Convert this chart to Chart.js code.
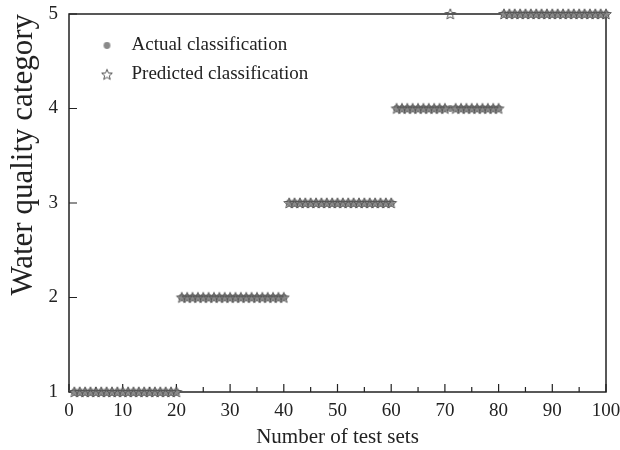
<!DOCTYPE html>
<html>
<head>
<meta charset="utf-8">
<script src="https://cdn.jsdelivr.net/npm/chart.js@4.4.1/dist/chart.umd.min.js"></script>
<style>
  html, body { margin: 0; padding: 0; background: #fff; }
  #wrap { width: 620px; height: 450px; }
</style>
</head>
<body>
<div id="wrap"><canvas id="qualityChart"></canvas></div>
<script>
// test set numbers 1..100
const testSets = [
  1, 2, 3, 4, 5, 6, 7, 8, 9, 10, 11, 12, 13, 14, 15, 16, 17, 18, 19, 20,
  21, 22, 23, 24, 25, 26, 27, 28, 29, 30, 31, 32, 33, 34, 35, 36, 37, 38, 39, 40,
  41, 42, 43, 44, 45, 46, 47, 48, 49, 50, 51, 52, 53, 54, 55, 56, 57, 58, 59, 60,
  61, 62, 63, 64, 65, 66, 67, 68, 69, 70, 71, 72, 73, 74, 75, 76, 77, 78, 79, 80,
  81, 82, 83, 84, 85, 86, 87, 88, 89, 90, 91, 92, 93, 94, 95, 96, 97, 98, 99, 100
];

const actual = [
  1, 1, 1, 1, 1, 1, 1, 1, 1, 1, 1, 1, 1, 1, 1, 1, 1, 1, 1, 1,
  2, 2, 2, 2, 2, 2, 2, 2, 2, 2, 2, 2, 2, 2, 2, 2, 2, 2, 2, 2,
  3, 3, 3, 3, 3, 3, 3, 3, 3, 3, 3, 3, 3, 3, 3, 3, 3, 3, 3, 3,
  4, 4, 4, 4, 4, 4, 4, 4, 4, 4, 4, 4, 4, 4, 4, 4, 4, 4, 4, 4,
  5, 5, 5, 5, 5, 5, 5, 5, 5, 5, 5, 5, 5, 5, 5, 5, 5, 5, 5, 5
];

const predicted = [
  1, 1, 1, 1, 1, 1, 1, 1, 1, 1, 1, 1, 1, 1, 1, 1, 1, 1, 1, 1,
  2, 2, 2, 2, 2, 2, 2, 2, 2, 2, 2, 2, 2, 2, 2, 2, 2, 2, 2, 2,
  3, 3, 3, 3, 3, 3, 3, 3, 3, 3, 3, 3, 3, 3, 3, 3, 3, 3, 3, 3,
  4, 4, 4, 4, 4, 4, 4, 4, 4, 4, 5, 4, 4, 4, 4, 4, 4, 4, 4, 4,
  5, 5, 5, 5, 5, 5, 5, 5, 5, 5, 5, 5, 5, 5, 5, 5, 5, 5, 5, 5
];

const FONT = "'Liberation Serif', 'Times New Roman', serif";

// marker images
function makeDot() {
  const c = document.createElement("canvas");
  c.width = 9; c.height = 9;
  const g = c.getContext("2d");
  g.fillStyle = "#8a8a8a";
  g.beginPath();
  g.arc(4.5, 4.5, 3.4, 0, Math.PI * 2);
  g.fill();
  return c;
}

function makeStar() {
  const c = document.createElement("canvas");
  c.width = 14; c.height = 14;
  const g = c.getContext("2d");
  g.strokeStyle = "#555";
  g.lineWidth = 1;
  g.beginPath();
  for (let i = 0; i < 10; i++) {
    const r = i % 2 === 0 ? 5.6 : 2.4;
    const a = -Math.PI / 2 + i * Math.PI / 5;
    const px = 7 + r * Math.cos(a), py = 7.4 + r * Math.sin(a);
    if (i === 0) g.moveTo(px, py); else g.lineTo(px, py);
  }
  g.closePath();
  g.stroke();
  return c;
}

const dotImg = makeDot();
const starImg = makeStar();

// box frame + inward ticks, legend moved inside the plot
const framePlugin = {
  id: "frame",
  beforeDraw(chart) {
    const lg = chart.legend, a = chart.chartArea;
    if (lg) {
      const w = lg.width, h = lg.height;
      lg.left = a.left + 13; lg.top = a.top + 12;
      lg.right = lg.left + w; lg.bottom = lg.top + h;
    }
  },
  beforeDatasetsDraw(chart) {
    const { ctx, chartArea: a, scales } = chart;
    ctx.save();
    ctx.strokeStyle = "#222";
    ctx.lineWidth = 1.5;
    ctx.strokeRect(a.left, a.top, a.right - a.left, a.bottom - a.top);
    ctx.lineWidth = 1.2;
    ctx.beginPath();
    const xt = scales.x.ticks;
    xt.forEach((t, i) => {
      const px = scales.x.getPixelForValue(t.value);
      ctx.moveTo(px, a.bottom);
      ctx.lineTo(px, a.bottom - 8);
      if (i < xt.length - 1) {
        const mx = scales.x.getPixelForValue((t.value + xt[i + 1].value) / 2);
        ctx.moveTo(mx, a.bottom);
        ctx.lineTo(mx, a.bottom - 5);
      }
    });
    scales.y.ticks.forEach(t => {
      const py = scales.y.getPixelForValue(t.value);
      ctx.moveTo(a.left, py);
      ctx.lineTo(a.left + 8, py);
    });
    ctx.stroke();
    ctx.restore();
  }
};

new Chart(document.getElementById("qualityChart"), {
  type: "scatter",
  data: {
    datasets: [
      {
        label: "Actual classification",
        data: testSets.map((x, i) => ({ x: x, y: actual[i] })),
        pointStyle: dotImg,
        pointRadius: 4,
        clip: false,
        order: 2
      },
      {
        label: "Predicted classification",
        data: testSets.map((x, i) => ({ x: x, y: predicted[i] })),
        pointStyle: starImg,
        pointRadius: 6,
        clip: false,
        order: 1
      }
    ]
  },
  options: {
    responsive: true,
    maintainAspectRatio: false,
    animation: false,
    layout: { padding: { top: 14, right: 14, left: 0, bottom: 0 } },
    plugins: {
      tooltip: { enabled: false },
      legend: {
        position: "chartArea",
        align: "start",
        labels: {
          usePointStyle: true,
          pointStyleWidth: 30,
          padding: 10,
          color: "#222",
          font: { family: FONT, size: 19 },
          sort: (a, b) => a.datasetIndex - b.datasetIndex
        }
      }
    },
    scales: {
      x: {
        type: "linear",
        min: 0,
        max: 100,
        grid: { display: false, drawTicks: false },
        border: { display: false },
        ticks: { stepSize: 10, padding: 8, color: "#222", font: { family: FONT, size: 19 } },
        title: { display: true, text: "Number of test sets", color: "#222", padding: { top: 2, bottom: 0 }, font: { family: FONT, size: 21 } },
        afterFit(s) { s.height = 58; s.paddingRight = 0; s.paddingLeft = 0; }
      },
      y: {
        min: 1,
        max: 5,
        grid: { display: false, drawTicks: false },
        border: { display: false },
        ticks: { stepSize: 1, padding: 11, color: "#222", font: { family: FONT, size: 19 } },
        title: { display: true, text: "Water quality category", align: "end", color: "#222", padding: { top: 5, bottom: 6 }, font: { family: FONT, size: 31 } },
        afterFit(s) { s.width = 69; s.paddingTop = 0; s.paddingBottom = 0; }
      }
    }
  },
  plugins: [framePlugin]
});
</script>
</body>
</html>
